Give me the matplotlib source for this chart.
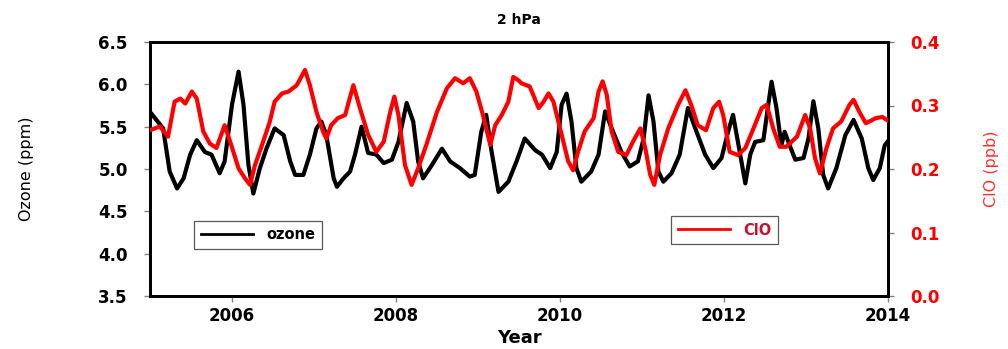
import matplotlib
matplotlib.use("Agg")
import matplotlib.pyplot as plt

# ---------------- data ----------------
ozone_years = [2005.02, 2005.16, 2005.24, 2005.33, 2005.41, 2005.49, 2005.57, 2005.67, 2005.75, 2005.85,
               2005.91, 2006.0, 2006.08, 2006.14, 2006.2, 2006.26, 2006.34, 2006.42, 2006.52, 2006.63,
               2006.71, 2006.77, 2006.87, 2006.95, 2007.03, 2007.09, 2007.15, 2007.24, 2007.28, 2007.36,
               2007.44, 2007.5, 2007.58, 2007.66, 2007.76, 2007.85, 2007.95, 2008.03, 2008.13, 2008.21,
               2008.27, 2008.33, 2008.44, 2008.56, 2008.66, 2008.78, 2008.9, 2008.96, 2009.04, 2009.1,
               2009.16, 2009.25, 2009.37, 2009.47, 2009.57, 2009.7, 2009.78, 2009.88, 2009.96, 2010.02,
               2010.08, 2010.14, 2010.2, 2010.26, 2010.38, 2010.47, 2010.55, 2010.63, 2010.75, 2010.85,
               2010.95, 2011.02, 2011.08, 2011.14, 2011.2, 2011.26, 2011.36, 2011.46, 2011.56, 2011.65,
               2011.77, 2011.87, 2011.97, 2012.05, 2012.11, 2012.17, 2012.26, 2012.32, 2012.38, 2012.48,
               2012.54, 2012.58, 2012.64, 2012.7, 2012.74, 2012.8, 2012.87, 2012.97, 2013.03, 2013.09,
               2013.15, 2013.21, 2013.27, 2013.37, 2013.48, 2013.58, 2013.68, 2013.76, 2013.82, 2013.9,
               2013.96, 2014.0]
ozone_ppm = [5.65, 5.48, 4.97, 4.77, 4.89, 5.17, 5.34, 5.20, 5.17, 4.95,
             5.09, 5.76, 6.15, 5.76, 5.05, 4.71, 5.01, 5.24, 5.48, 5.40,
             5.09, 4.93, 4.93, 5.17, 5.48, 5.56, 5.40, 4.89, 4.79, 4.89,
             4.97, 5.17, 5.50, 5.19, 5.17, 5.07, 5.11, 5.32, 5.78, 5.56,
             5.09, 4.89, 5.05, 5.24, 5.09, 5.01, 4.91, 4.93, 5.44, 5.64,
             5.24, 4.73, 4.85, 5.09, 5.36, 5.22, 5.17, 5.01, 5.20, 5.76,
             5.89, 5.56, 5.01, 4.85, 4.97, 5.17, 5.68, 5.48, 5.20, 5.03,
             5.09, 5.36, 5.87, 5.56, 4.97, 4.85, 4.95, 5.17, 5.72, 5.48,
             5.17, 5.01, 5.13, 5.44, 5.64, 5.32, 4.83, 5.17, 5.32, 5.34,
             5.76, 6.03, 5.72, 5.28, 5.44, 5.28, 5.11, 5.13, 5.36, 5.80,
             5.48, 4.93, 4.77, 5.01, 5.40, 5.58, 5.36, 5.01, 4.87, 5.01,
             5.28, 5.33]

clo_years = [2005.02, 2005.12, 2005.22, 2005.30, 2005.37, 2005.43, 2005.51, 2005.57, 2005.65, 2005.73,
             2005.81, 2005.91, 2005.99, 2006.08, 2006.16, 2006.22, 2006.28, 2006.38, 2006.46, 2006.52,
             2006.61, 2006.69, 2006.79, 2006.89, 2006.95, 2007.03, 2007.11, 2007.15, 2007.21, 2007.29,
             2007.38, 2007.48, 2007.56, 2007.66, 2007.76, 2007.85, 2007.93, 2007.98, 2008.03, 2008.11,
             2008.19, 2008.27, 2008.37, 2008.50, 2008.62, 2008.72, 2008.82, 2008.90, 2008.98, 2009.06,
             2009.15, 2009.21, 2009.29, 2009.37, 2009.43, 2009.49, 2009.53, 2009.63, 2009.74, 2009.80,
             2009.86, 2009.92, 2010.02, 2010.10, 2010.16, 2010.22, 2010.30, 2010.41, 2010.47, 2010.52,
             2010.57, 2010.63, 2010.71, 2010.81, 2010.89, 2010.98, 2011.04, 2011.10, 2011.15, 2011.22,
             2011.32, 2011.44, 2011.53, 2011.60, 2011.68, 2011.78, 2011.87, 2011.94, 2011.99, 2012.07,
             2012.17, 2012.26, 2012.36, 2012.46, 2012.52, 2012.60, 2012.68, 2012.76, 2012.89, 2012.99,
             2013.05, 2013.11, 2013.17, 2013.25, 2013.33, 2013.43, 2013.53, 2013.58, 2013.65, 2013.73,
             2013.85, 2013.93, 2014.0]
clo_ppb = [0.262, 0.267, 0.251, 0.306, 0.311, 0.303, 0.322, 0.311, 0.259, 0.240,
           0.233, 0.269, 0.238, 0.201, 0.185, 0.175, 0.206, 0.243, 0.274, 0.306,
           0.319, 0.322, 0.332, 0.356, 0.332, 0.290, 0.259, 0.248, 0.269, 0.280,
           0.285, 0.332, 0.296, 0.254, 0.227, 0.243, 0.290, 0.314, 0.285, 0.206,
           0.175, 0.201, 0.238, 0.290, 0.327, 0.343, 0.335, 0.343, 0.322, 0.285,
           0.238, 0.269, 0.285, 0.306, 0.345, 0.340, 0.335, 0.330, 0.296, 0.306,
           0.319, 0.306, 0.254, 0.212, 0.198, 0.227, 0.259, 0.280, 0.322, 0.338,
           0.317, 0.259, 0.227, 0.222, 0.243, 0.264, 0.233, 0.191, 0.175, 0.222,
           0.264, 0.301, 0.324, 0.301, 0.269, 0.261, 0.296, 0.306, 0.285, 0.227,
           0.222, 0.233, 0.264, 0.296, 0.301, 0.264, 0.235, 0.235, 0.251, 0.285,
           0.264, 0.217, 0.193, 0.233, 0.264, 0.275, 0.301, 0.309, 0.290, 0.272,
           0.280, 0.282, 0.276]

x_ticks = [2006, 2008, 2010, 2012, 2014]
x_tick_labels = ["2006", "2008", "2010", "2012", "2014"]
ozone_ticks = [3.5, 4.0, 4.5, 5.0, 5.5, 6.0, 6.5]
clo_ticks = [0.0, 0.1, 0.2, 0.3, 0.4]

title = "2 hPa"
x_label = "Year"
ozone_label = "Ozone (ppm)"
clo_label = "ClO (ppb)"
ozone_legend = "ozone"
clo_legend = "ClO"

# ---------------- figure ----------------
plt.rcParams['font.family'] = ['DejaVu Sans']
fig = plt.figure(figsize=(10.08, 3.49), dpi=100)
ax = fig.add_axes([150 / 1008, 1 - 296 / 349, 738 / 1008, 254 / 349])
ax2 = ax.twinx()

ln1, = ax.plot(ozone_years, ozone_ppm, color="black", lw=3.0, solid_joinstyle="round",
               label=ozone_legend, zorder=3)
ln2, = ax2.plot(clo_years, clo_ppb, color="#ff0000", lw=3.0, solid_joinstyle="round",
                label=clo_legend, zorder=3)

ax.set_xlim(2005, 2014)
ax.set_ylim(3.5, 6.5)
ax2.set_ylim(0.0, 0.4)

ax.set_xticks(x_ticks)
ax.set_xticklabels(x_tick_labels)
ax.set_yticks(ozone_ticks)
ax.set_yticklabels([f"{v:.1f}" for v in ozone_ticks])
ax2.set_yticks(clo_ticks)
ax2.set_yticklabels([f"{v:.1f}" for v in clo_ticks])

for lab in ax.get_xticklabels() + ax.get_yticklabels():
    lab.set_fontsize(12)
    lab.set_fontweight("bold")
for lab in ax2.get_yticklabels():
    lab.set_fontsize(12)
    lab.set_fontweight("bold")
    lab.set_color("#ff0000")

ax.tick_params(axis="both", direction="out", length=4, width=1, color="0.5", pad=4)
ax2.tick_params(axis="y", direction="out", length=4, width=1, color="0.5", pad=12)
ax.tick_params(axis="y", pad=12)

for a in (ax, ax2):
    for s in a.spines.values():
        s.set_linewidth(2.0)
        s.set_color("black")

ax.set_title(title, fontsize=10, fontweight="bold", pad=13)
ax.set_xlabel(x_label, fontsize=13, fontweight="bold", labelpad=3)
ax.set_ylabel(ozone_label, fontsize=11.5, labelpad=46)
ax2.set_ylabel(clo_label, fontsize=11.5, color="#ff3030", labelpad=32)

leg1 = ax.legend(handles=[ln1], loc="upper left", bbox_to_anchor=(0.0596, 0.297),
                 borderaxespad=0, fancybox=False, edgecolor="0.35", framealpha=1,
                 handlelength=3.6, handletextpad=0.9, borderpad=0.45,
                 prop=dict(weight="bold", size=10.5))
leg1.get_frame().set_linewidth(0.9)
leg1.get_lines()[0].set_linewidth(2.0)
leg2 = ax2.legend(handles=[ln2], loc="upper left", bbox_to_anchor=(0.706, 0.315),
                  borderaxespad=0, fancybox=False, edgecolor="0.35", framealpha=1,
                  handlelength=3.6, handletextpad=0.9, borderpad=0.45,
                  prop=dict(weight="bold", size=10.5))
leg2.get_frame().set_linewidth(0.9)
leg2.get_lines()[0].set_linewidth(2.0)
leg2.get_texts()[0].set_color("#cc1030")

fig.savefig("out.png", dpi=100, facecolor="white")
